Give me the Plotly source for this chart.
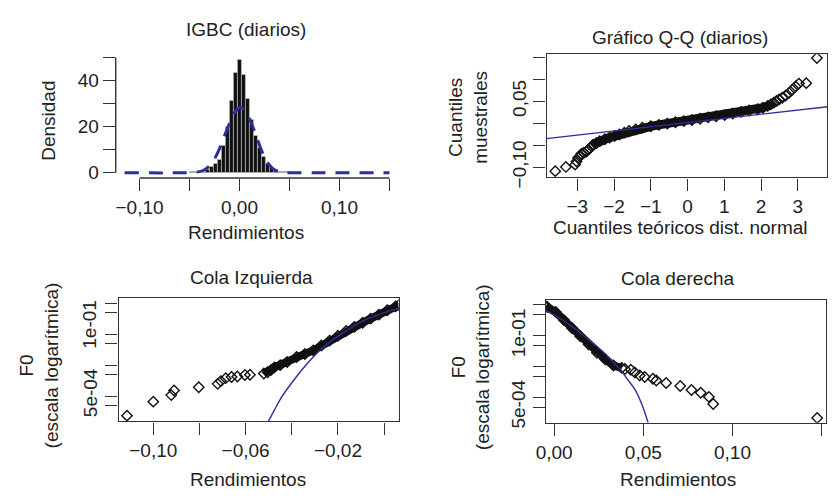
import plotly.graph_objects as go

W, H = 838, 498
FONT = "Liberation Sans"
FS = 19
TXT = "#222222"
AX = "#333333"
BLUE = "#2b2f9c"

# ---------------- data ----------------
# Panel 1: histogram of daily returns (density) + fitted normal
hist_centers = [-0.048, -0.044, -0.040, -0.036, -0.032, -0.028, -0.024, -0.020,
                -0.016, -0.012, -0.008, -0.004, 0.000, 0.004, 0.008, 0.012,
                0.016, 0.020, 0.024, 0.028, 0.032, 0.036, 0.040, 0.044, 0.048]
hist_density = [0.3, 0.3, 0.3, 0.4, 1.5, 2.5, 3.8, 5.5,
                11.5, 20.0, 31.0, 43.5, 49.0, 42.5, 32.0, 23.0,
                16.0, 11.0, 7.0, 4.0, 2.2, 1.2, 0.6, 0.4, 0.3]
dens_x = [-0.115, -0.060, -0.045, -0.040, -0.035, -0.030, -0.025, -0.020, -0.015,
          -0.010, -0.005, 0.000, 0.005, 0.010, 0.015, 0.020, 0.025, 0.030,
          0.035, 0.040, 0.045, 0.060, 0.150]
dens_y = [0.0, 0.0, 0.2, 0.5, 1.3, 3.0, 6.0, 10.5, 16.0,
          21.5, 26.0, 28.2, 27.5, 23.5, 18.0, 12.0, 6.8, 3.3,
          1.3, 0.45, 0.12, 0.0, 0.0]
hist_xticks = [-0.10, -0.05, 0.00, 0.05, 0.10, 0.15]
hist_xlabels = ["\u22120,10", "", "0,00", "", "0,10", ""]
hist_yticks = [0, 10, 20, 30, 40, 50]
hist_ylabels = ["0", "", "20", "", "40", ""]

# Panel 2: Q-Q plot
qq_lo_theor = [-3.60, -3.31, -3.06, -3.02, -2.98, -2.93, -2.89, -2.82, -2.75, -2.70, -2.66, -2.61, -2.57]
qq_lo_sample = [-0.1089, -0.0993, -0.0941, -0.0867, -0.0790, -0.0756, -0.0696, -0.0670, -0.0644,
                -0.0600, -0.0570, -0.0530, -0.0496]
qq_core_theor = [-2.57, -2.48, -2.39, -2.25, -2.12, -1.98, -1.85, -1.72, -1.59, -1.41, -1.23,
                 -1.00, -0.78, -0.55, -0.33, -0.10, 0.12, 0.34, 0.56, 0.78, 1.01, 1.23,
                 1.46, 1.68, 1.91, 2.05, 2.18, 2.27, 2.35]
qq_core_sample = [-0.0496, -0.0450, -0.0407, -0.0365, -0.0326, -0.0288, -0.0252, -0.0214, -0.0178,
                  -0.0140, -0.0104, -0.0070, -0.0037, -0.0008, 0.0022, 0.0048, 0.0074, 0.0103,
                  0.0133, 0.0158, 0.0185, 0.0220, 0.0259, 0.0288, 0.0318, 0.0352, 0.0393,
                  0.0430, 0.0467]
qq_hi_theor = [2.42, 2.49, 2.58, 2.67, 2.76, 2.85, 2.94, 3.03, 3.23, 3.52]
qq_hi_sample = [0.0505, 0.0540, 0.0578, 0.0630, 0.0689, 0.0763, 0.0837, 0.0900, 0.0911, 0.1482]
qq_line_x = [-3.84, 3.81]
qq_line_y = [-0.0349, 0.0376]
qq_xticks = [-3, -2, -1, 0, 1, 2, 3]
qq_xlabels = ["\u22123", "\u22122", "\u22121", "0", "1", "2", "3"]
qq_yticks = [-0.10, -0.05, 0.00, 0.05, 0.10, 0.15]
qq_ylabels = ["\u22120,10", "", "", "0,05", "", ""]

# Panel 3: left tail (empirical F0, log scale) + fitted normal
lt_sparse_x = [-0.1114, -0.1000, -0.0922, -0.0910, -0.0803, -0.0721, -0.0707, -0.0686,
               -0.0661, -0.0636, -0.0603, -0.0581]
lt_sparse_F = [2.35e-4, 6.65e-4, 1.08e-3, 1.52e-3, 1.94e-3, 2.49e-3, 3.06e-3, 3.80e-3,
               4.15e-3, 4.31e-3, 4.80e-3, 4.88e-3]
lt_core_x = [-0.0521, -0.0505, -0.0490, -0.0475, -0.0450, -0.0420, -0.0379, -0.0343,
             -0.0307, -0.0272, -0.0236, -0.0200, -0.0164, -0.0129, -0.0093, -0.0058,
             -0.0022, 0.0014, 0.0050, 0.0062]
lt_core_F = [5.40e-3, 5.90e-3, 7.00e-3, 8.50e-3, 1.00e-2, 1.26e-2, 1.84e-2, 2.30e-2,
             2.99e-2, 4.30e-2, 6.19e-2, 8.90e-2, 0.128, 0.172, 0.234, 0.318,
             0.428, 0.590, 0.787, 0.850]
lt_fit_x = [-0.0502, -0.0475, -0.0450, -0.0415, -0.0379, -0.0343, -0.0307, -0.0272,
            -0.0236, -0.0200, -0.0164, -0.0093, -0.0022, 0.0050, 0.0063]
lt_fit_F = [1.50e-4, 3.60e-4, 7.90e-4, 1.90e-3, 4.30e-3, 9.20e-3, 1.84e-2, 3.30e-2,
            5.47e-2, 8.60e-2, 0.128, 0.265, 0.428, 0.640, 0.660]
tail_yticks = [1.0, 0.5, 0.1, 0.05, 0.01, 0.005, 0.001, 0.0005]
tail_ylabels = ["", "", "1e-01", "", "", "", "", "5e-04"]
tail_blank = ["", "", "", "", "", "", "", ""]
lt_ylabel_text = ["1e-01", "5e-04"]
lt_xticks = [-0.10, -0.08, -0.06, -0.04, -0.02, 0.00]
lt_xlabels = ["\u22120,10", "", "\u22120,06", "", "\u22120,02", ""]

# Panel 4: right tail
rt_core_x = [-0.0047, -0.0037, 0.0009, 0.0055, 0.0101, 0.0147, 0.0194, 0.0240,
             0.0286, 0.0333, 0.0379]
rt_core_F = [0.900, 0.845, 0.589, 0.321, 0.175, 0.0955, 0.0525, 0.0285,
             0.0176, 0.0110, 0.0092]
rt_sparse_x = [0.0397, 0.0430, 0.0452, 0.0480, 0.0508, 0.0554, 0.0573, 0.0628,
               0.0707, 0.0770, 0.0822, 0.0868, 0.0892, 0.1475]
rt_sparse_F = [8.5e-3, 8.0e-3, 6.6e-3, 5.25e-3, 4.7e-3, 4.1e-3, 3.6e-3, 3.0e-3,
               2.4e-3, 1.78e-3, 1.45e-3, 1.07e-3, 6.3e-4, 2.24e-4]
rt_fit_x = [-0.0047, 0.0009, 0.0055, 0.0101, 0.0147, 0.0194, 0.0240, 0.0286, 0.0341,
            0.0379, 0.0416, 0.0452, 0.0489, 0.0527]
rt_fit_F = [0.665, 0.441, 0.300, 0.198, 0.125, 0.0752, 0.0450, 0.0265, 0.0122,
            0.00716, 0.00363, 0.00191, 6.8e-4, 1.58e-4]
rt_xticks = [0.00, 0.05, 0.10, 0.15]
rt_xlabels = ["0,00", "0,05", "0,10", "0,15"]

# ---------------- figure ----------------
def px_x(p):
    return p / W

def px_y(p):
    return 1 - p / H

fig = go.Figure()

mk = dict(symbol="diamond-open", size=8, color="#111111", line=dict(width=1.4, color="#111111"))

# panel 1
fig.add_trace(go.Bar(x=hist_centers, y=hist_density, width=0.004,
                     marker=dict(color="#111111", line=dict(color="#c4c4c4", width=0.6)),
                     xaxis="x", yaxis="y", showlegend=False))
fig.add_trace(go.Scatter(x=dens_x, y=dens_y, mode="lines",
                         line=dict(color=BLUE, width=3, dash="14px,10px", shape="spline"),
                         xaxis="x", yaxis="y", showlegend=False))

# panel 2
fig.add_trace(go.Scatter(x=qq_core_theor, y=qq_core_sample, mode="lines+markers",
                         line=dict(color="#111111", width=9), marker=mk,
                         xaxis="x2", yaxis="y2", showlegend=False))
fig.add_trace(go.Scatter(x=qq_lo_theor, y=qq_lo_sample, mode="markers", marker=mk,
                         xaxis="x2", yaxis="y2", showlegend=False))
fig.add_trace(go.Scatter(x=qq_hi_theor, y=qq_hi_sample, mode="markers", marker=mk,
                         xaxis="x2", yaxis="y2", showlegend=False))
fig.add_trace(go.Scatter(x=qq_line_x, y=qq_line_y, mode="lines",
                         line=dict(color=BLUE, width=1.4),
                         xaxis="x2", yaxis="y2", showlegend=False))

# panel 3
fig.add_trace(go.Scatter(x=lt_core_x, y=lt_core_F, mode="lines+markers",
                         line=dict(color="#111111", width=8), marker=mk,
                         xaxis="x3", yaxis="y3", showlegend=False))
fig.add_trace(go.Scatter(x=lt_sparse_x, y=lt_sparse_F, mode="markers", marker=mk,
                         xaxis="x3", yaxis="y3", showlegend=False))
fig.add_trace(go.Scatter(x=lt_fit_x, y=lt_fit_F, mode="lines",
                         line=dict(color=BLUE, width=1.4, shape="spline"),
                         xaxis="x3", yaxis="y3", showlegend=False))

# panel 4
fig.add_trace(go.Scatter(x=rt_core_x, y=rt_core_F, mode="lines+markers",
                         line=dict(color="#111111", width=8), marker=mk,
                         xaxis="x4", yaxis="y4", showlegend=False))
fig.add_trace(go.Scatter(x=rt_sparse_x, y=rt_sparse_F, mode="markers", marker=mk,
                         xaxis="x4", yaxis="y4", showlegend=False))
fig.add_trace(go.Scatter(x=rt_fit_x, y=rt_fit_F, mode="lines",
                         line=dict(color=BLUE, width=1.4, shape="spline"),
                         xaxis="x4", yaxis="y4", showlegend=False))

tickfont = dict(family=FONT, size=FS, color=TXT)

def axis(domain, rng, tickvals, ticktext, box, **kw):
    d = dict(domain=domain, range=rng, tickvals=tickvals, ticktext=ticktext,
             showgrid=False, zeroline=False, ticks="outside", ticklen=12,
             tickwidth=1.3, tickcolor=AX, tickfont=tickfont,
             showline=box, mirror=box, linecolor=AX, linewidth=1.4)
    d.update(kw)
    return d

fig.update_layout(
    width=W, height=H, margin=dict(l=0, r=0, t=0, b=0),
    paper_bgcolor="white", plot_bgcolor="white", bargap=0,
    showlegend=False,
    font=dict(family=FONT, size=FS, color=TXT),
    xaxis=axis([px_x(107), px_x(395)], [-0.1238, 0.1608], hist_xticks, hist_xlabels, False,
               anchor="y"),
    yaxis=axis([px_y(182), px_y(54)], [-2.25, 52.0], hist_yticks, hist_ylabels, False,
               anchor="x"),
    xaxis2=axis([px_x(543), px_x(827.3)], [-3.837, 3.806], qq_xticks, qq_xlabels, True,
                anchor="y2"),
    yaxis2=axis([px_y(181.5), px_y(55.5)], [-0.1233, 0.1567], qq_yticks, qq_ylabels, True,
                anchor="x2", tickangle=-90),
    xaxis3=axis([px_x(110), px_x(393.3)], [-0.1150, 0.0063], lt_xticks, lt_xlabels, True,
                anchor="y3"),
    yaxis3=axis([px_y(431), px_y(305)], [-3.817, 0.158], tail_yticks, tail_blank, True,
                anchor="x3", type="log", tickangle=-90),
    xaxis4=axis([px_x(542.3), px_x(826.3)], [-0.00466, 0.1527], rt_xticks, rt_xlabels, True,
                anchor="y4"),
    yaxis4=axis([px_y(432.3), px_y(306.3)], [-3.805, 0.170], tail_yticks, tail_ylabels, True,
                anchor="x4", type="log", tickangle=-90),
)

# R-style detached axis lines for the histogram panel
fig.add_shape(type="line", xref="x", yref="y domain", x0=-0.10, x1=0.15, y0=0, y1=0,
              line=dict(color=AX, width=1.4))
fig.add_shape(type="line", xref="x domain", yref="y", x0=0, x1=0, y0=0, y1=50,
              line=dict(color=AX, width=1.4))

def ann(text, x, y, angle=0):
    fig.add_annotation(text=text, x=px_x(x), y=px_y(y), xref="paper", yref="paper",
                       xanchor="center", yanchor="middle", showarrow=False,
                       textangle=angle, font=dict(family=FONT, size=FS, color=TXT))

ann("IGBC (diarios)", 239, 30)
ann("Rendimientos", 239, 238)
ann("Densidad", 39, 124, -90)
ann("Gráfico Q-Q (diarios)", 678, 38)
ann("Cuantiles teóricos dist. normal", 679, 233)
ann("Cuantiles<br>muestrales", 464, 120, -90)
ann("Cola Izquierda", 244, 284)
ann("Rendimientos", 241, 490)
ann("F0<br>(escala logarítmica)", 29, 374, -90)
ann("Cola derecha", 676, 285)
ann("Rendimientos", 676, 490)
ann("F0<br>(escala logarítmica)", 466, 375, -90)
# left-tail y tick labels sit slightly above their ticks in the original
ann(lt_ylabel_text[0], 81, 332, -90)
ann(lt_ylabel_text[1], 81, 402, -90)

fig.write_html("out.html")
